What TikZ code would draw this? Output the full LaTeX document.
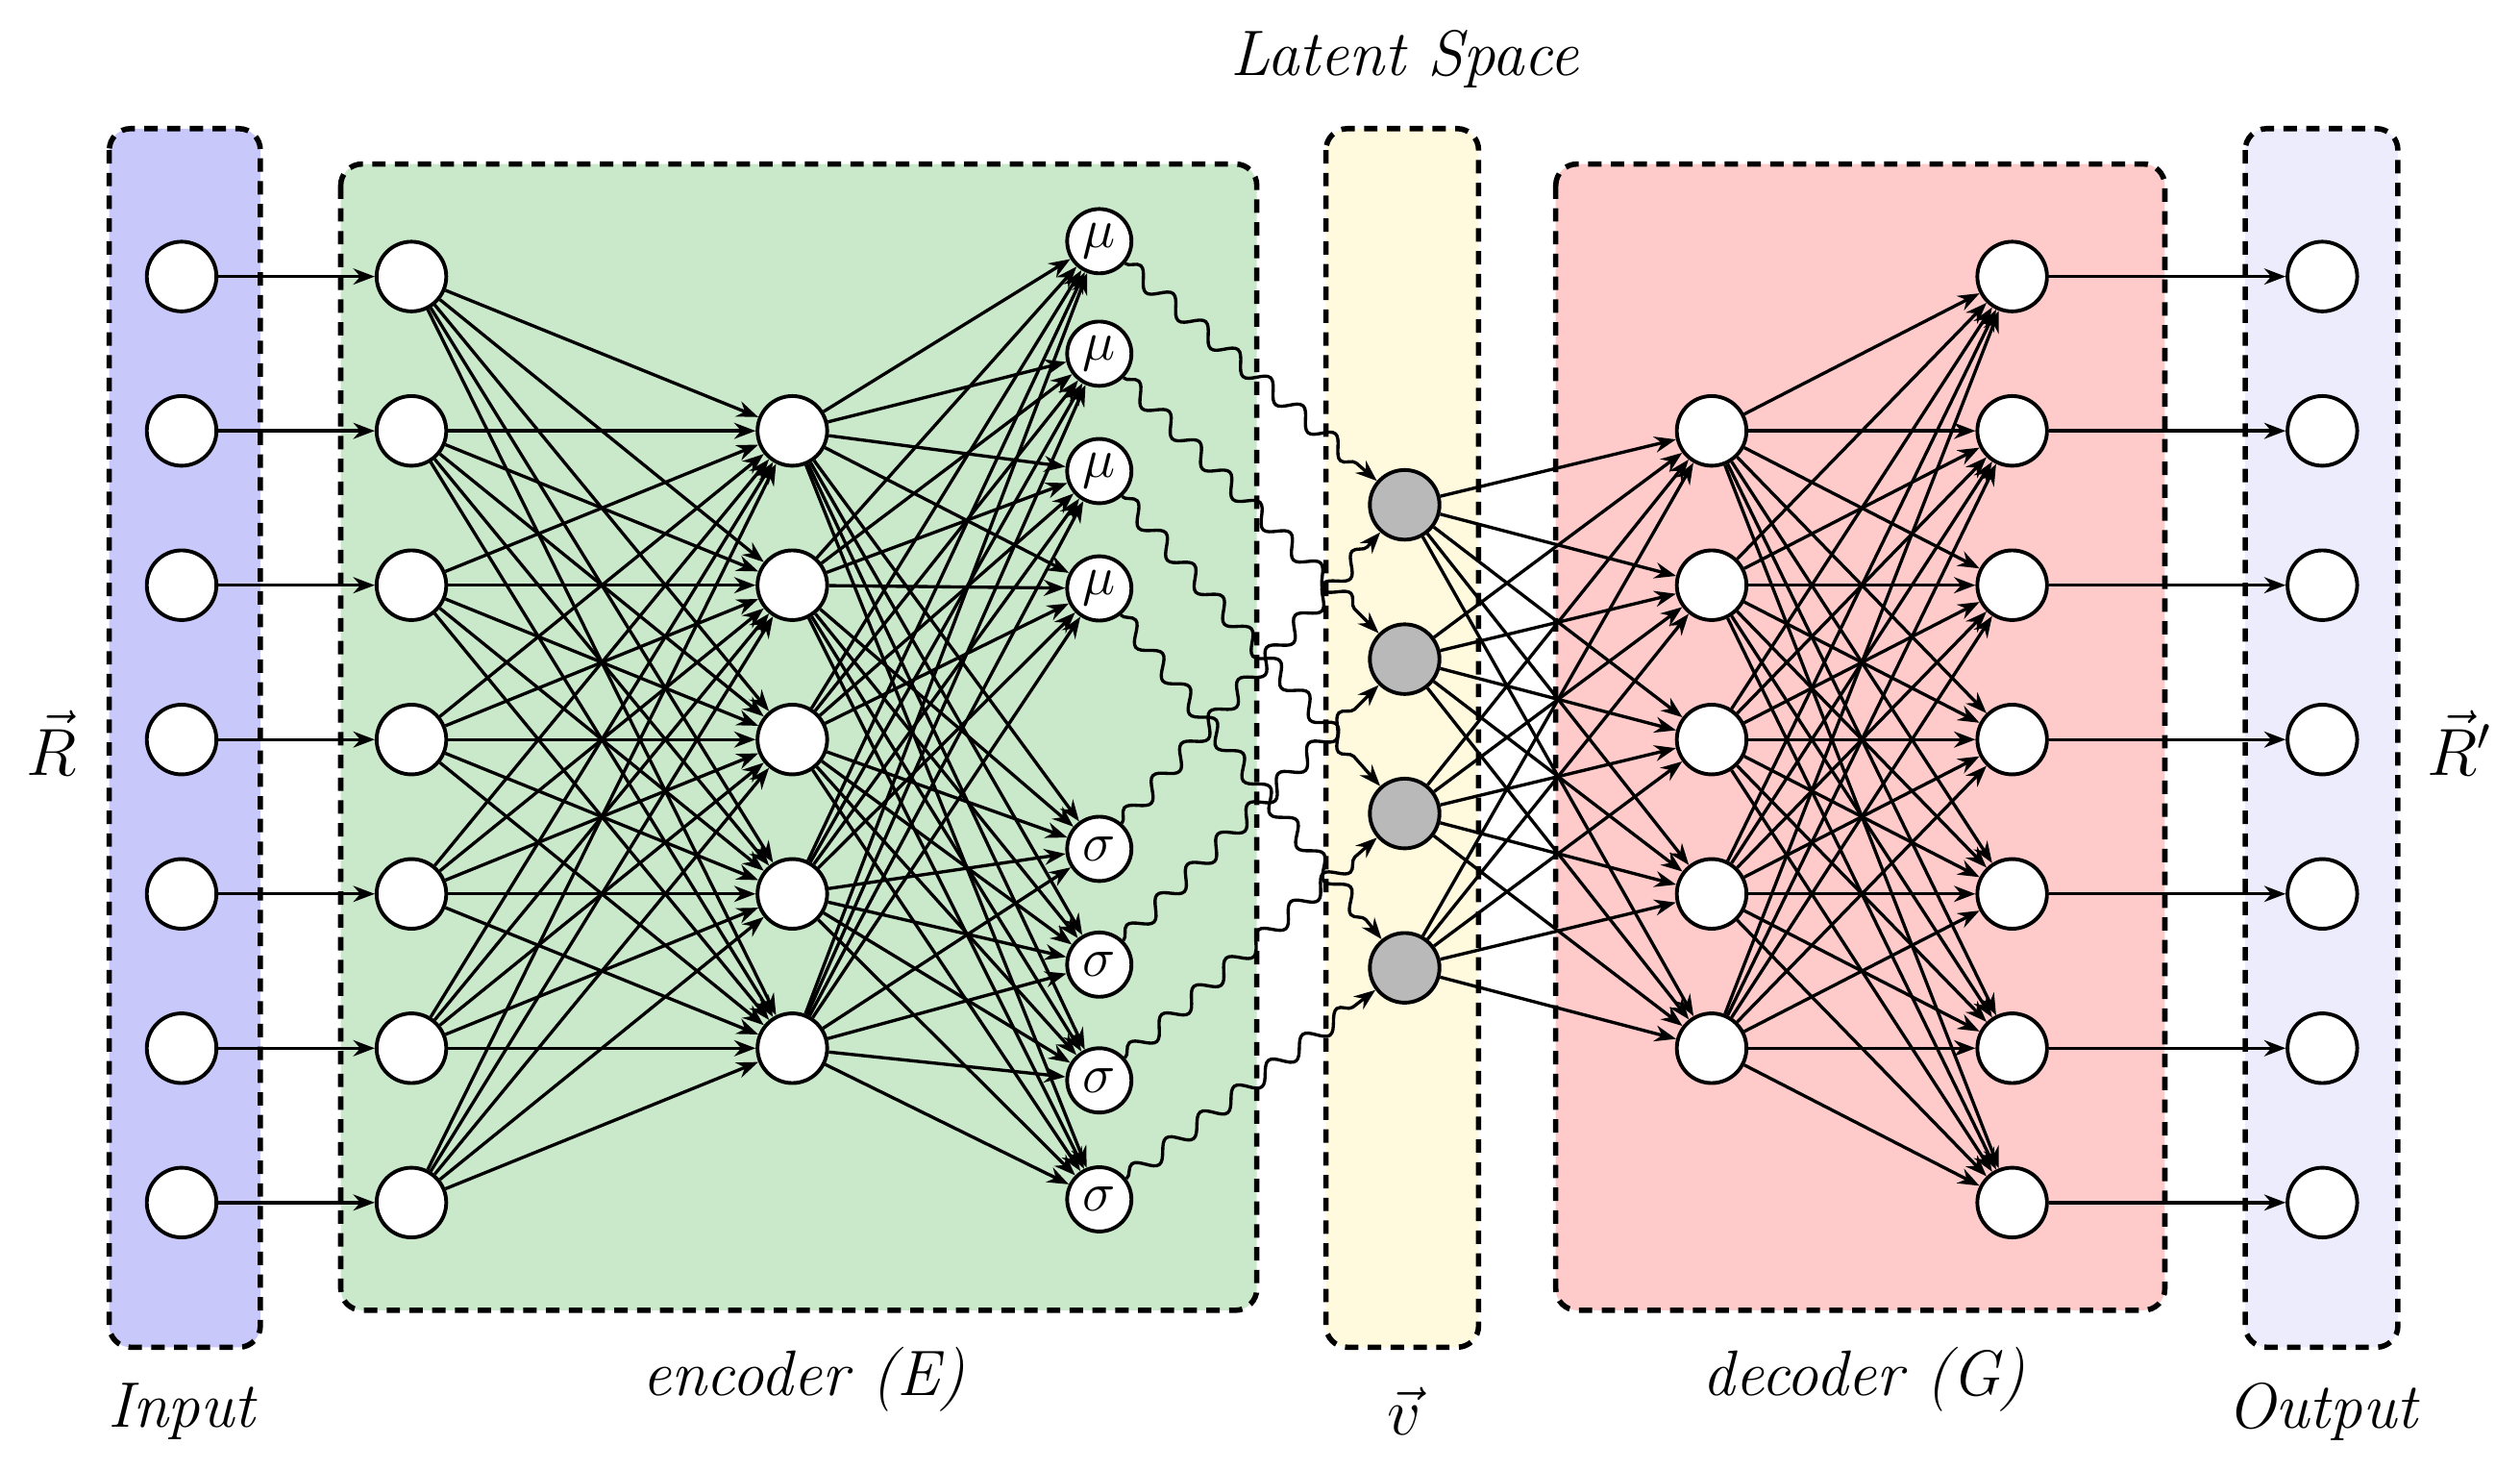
\documentclass[tikz,border=0pt]{standalone}
\usetikzlibrary{decorations.pathmorphing,arrows.meta}
\begin{document}
\begin{tikzpicture}[x=0.6pt,y=-0.6pt,
  box/.style={draw=black,line width=2pt,dash pattern=on 5pt off 3.5pt,rounded corners=8pt},
  neu/.style={circle,draw=black,line width=1.4pt,fill=white,minimum size=26pt,inner sep=0pt},
  lat/.style={neu,fill=gray!55},
  par/.style={neu,minimum size=24pt,font=\fontsize{20}{22}\selectfont},
  con/.style={-{Stealth[length=8pt,width=6pt]},line width=1.2pt},
  wav/.style={-{Stealth[length=8pt,width=6pt]},line width=1.2pt,decorate,decoration={snake,amplitude=3.2pt,segment length=16pt,post length=7pt}},
  lab/.style={font=\fontsize{24}{28}\selectfont\itshape}]
\useasboundingbox (0,0) rectangle (1568,914);
\definecolor{cin}{RGB}{200,200,250}
\definecolor{cenc}{RGB}{202,232,202}
\definecolor{clat}{RGB}{255,250,222}
\definecolor{cdec}{RGB}{255,202,202}
\definecolor{cout}{RGB}{236,236,252}
\filldraw[box,fill=cin] (68,80) rectangle (162,838);
\filldraw[box,fill=cenc] (212,102) rectangle (782,815);
\filldraw[box,fill=clat] (825,80) rectangle (920,838);
\filldraw[box,fill=cdec] (968,102) rectangle (1347,815);
\filldraw[box,fill=cout] (1397,80) rectangle (1492,838);
\foreach \i in {1,...,7}{
  \pgfmathsetmacro\yy{172+96*(\i-1)}
  \node[neu] (in\i) at (113,\yy) {};
  \node[neu] (a\i) at (256,\yy) {};
  \node[neu] (d\i) at (1252,\yy) {};
  \node[neu] (out\i) at (1445,\yy) {};
}
\foreach \i in {1,...,5}{
  \pgfmathsetmacro\yy{268+96*(\i-1)}
  \node[neu] (b\i) at (493,\yy) {};
  \node[neu] (c\i) at (1065,\yy) {};
}
\foreach \i/\yy in {1/150,2/220,3/293,4/366}{\node[par] (m\i) at (684,\yy) {$\mu$};}
\foreach \i/\yy in {1/528,2/600,3/672,4/746}{\node[par] (s\i) at (684,\yy) {$\sigma$};}
\foreach \i in {1,...,4}{
  \pgfmathsetmacro\yy{314+96*(\i-1)}
  \node[lat] (z\i) at (874,\yy) {};
}
\foreach \i in {1,...,7}{
  \draw[con] (in\i) -- (a\i);
  \draw[con] (d\i) -- (out\i);
  \foreach \j in {1,...,5}{
    \draw[con] (a\i) -- (b\j);
    \draw[con] (c\j) -- (d\i);
  }
}
\foreach \j in {1,...,5}{
  \foreach \k in {1,...,4}{
    \draw[con] (b\j) -- (m\k);
    \draw[con] (b\j) -- (s\k);
    \draw[con] (z\k) -- (c\j);
  }
}
\foreach \k in {1,...,4}{
  \draw[wav] (m\k) -- (z\k);
  \draw[wav] (s\k) -- (z\k);
}
\node[lab] (tl) at (874,37) {Latent Space};
\node[lab] (ti) at (113,878) {Input};
\node[lab] (te) at (500,858) {encoder (E)};
\node[lab] (tv) at (874,878) {$\vec{v}$};
\node[lab] (td) at (1160,858) {decoder (G)};
\node[lab] (to) at (1445,878) {Output};
\node[lab] (tr) at (32,462) {$\vec{R}$};
\node[lab] (tr2) at (1530,462) {$\vec{R}'$};
\end{tikzpicture}
\end{document}
